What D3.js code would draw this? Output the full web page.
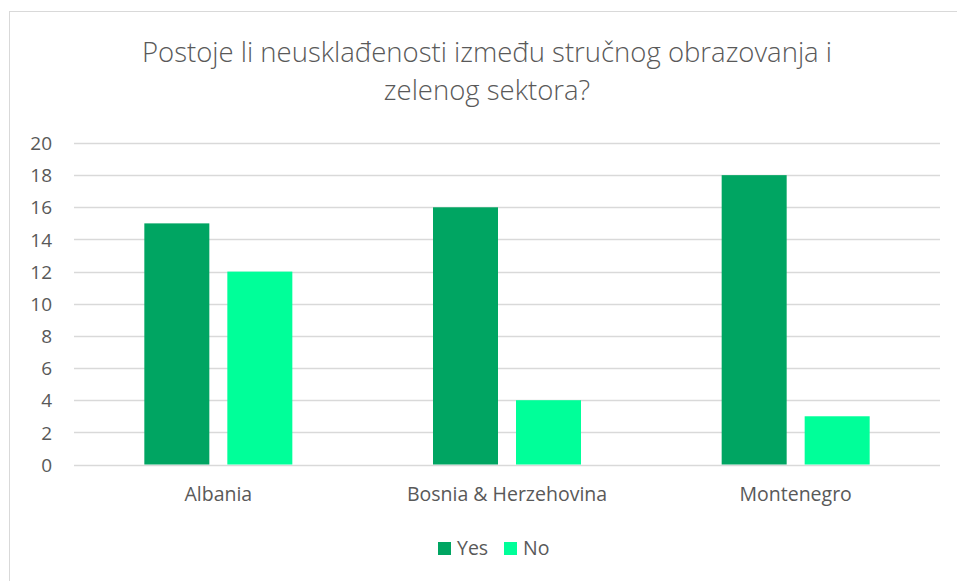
<!DOCTYPE html>
<html><head><meta charset="utf-8">
<script src="https://cdn.jsdelivr.net/npm/d3@7"></script>
<style>body{margin:0;background:#fff;} svg{display:block;}</style>
</head><body>
<svg id="chart" width="957" height="581"></svg>
<script>
const titleLines = ["Postoje li neusklađenosti između stručnog obrazovanja i", "zelenog sektora?"];
const categories = ["Albania", "Bosnia & Herzehovina", "Montenegro"];
const seriesNames = ["Yes", "No"];
const yesValues = [15, 16, 18];
const noValues = [12, 4, 3];
const yTicks = [0, 2, 4, 6, 8, 10, 12, 14, 16, 18, 20];
const colors = ["#00A562", "#00FF99"];

const svg = d3.select("#chart");
const font = "'Open Sans', Lato, sans-serif";
const textColor = "#595959";

// frame
svg.append("rect").attr("x", 9.5).attr("y", 11.5).attr("width", 1000).attr("height", 1000)
  .attr("fill", "#fff").attr("stroke", "#d9d9d9").attr("stroke-width", 1);

const x0 = 74, x1 = 940, yTop = 143, yBot = 464.5;
const x = d3.scaleBand().domain(categories).range([x0, x1]).paddingInner(0).paddingOuter(0);
const y = d3.scaleLinear().domain([0, 20]).range([yBot, yTop]);
const barW = 65, gap = 18;
const xs = d3.scaleOrdinal().domain(seriesNames).range([-(gap / 2 + barW), gap / 2]);

// gridlines
svg.append("g").selectAll("line").data(yTicks).join("line")
  .attr("x1", x0).attr("x2", x1)
  .attr("y1", d => Math.round(y(d)) + 0.5).attr("y2", d => Math.round(y(d)) + 0.5)
  .attr("stroke", "#d9d9d9").attr("stroke-width", 1.3);

// y axis labels
const yAxis = d3.axisLeft(y).tickValues(yTicks).tickSize(0).tickPadding(0);
const ya = svg.append("g").attr("transform", "translate(52,0)").call(yAxis);
ya.select(".domain").remove();
ya.selectAll("text").attr("font-family", font).attr("font-size", 19).attr("fill", textColor).attr("dy", "0.35em");

// bars
const data = [];
categories.forEach((c, i) => {
  data.push({cat: c, s: "Yes", v: yesValues[i]});
  data.push({cat: c, s: "No", v: noValues[i]});
});
svg.append("g").selectAll("rect").data(data).join("rect")
  .attr("x", d => x(d.cat) + x.bandwidth() / 2 + xs(d.s))
  .attr("width", barW)
  .attr("y", d => y(d.v))
  .attr("height", d => yBot - y(d.v))
  .attr("fill", (d) => colors[seriesNames.indexOf(d.s)]);

// x axis labels
const xAxis = d3.axisBottom(x).tickSize(0).tickPadding(0);
const xa = svg.append("g").attr("transform", "translate(0,486)").call(xAxis);
xa.select(".domain").remove();
xa.selectAll("text").attr("font-family", font).attr("font-size", 19.5).attr("fill", textColor).attr("dy", "0.75em");

// title
svg.append("g").selectAll("text").data(titleLines).join("text")
  .attr("x", 487).attr("y", (d, i) => 62 + i * 38)
  .attr("text-anchor", "middle")
  .attr("font-family", font).attr("font-weight", 300).attr("font-size", 27.5)
  .attr("fill", textColor).text(d => d);

// legend
const legendX = [438, 504];
const lg = svg.append("g").selectAll("g").data(seriesNames).join("g")
  .attr("transform", (d, i) => `translate(${legendX[i]},542)`);
lg.append("rect").attr("width", 13).attr("height", 13).attr("fill", (d, i) => colors[i]);
lg.append("text").attr("x", 19).attr("y", 6.5).attr("dy", "0.35em")
  .attr("font-family", font).attr("font-size", 19.5).attr("fill", textColor).text(d => d);
</script>
</body></html>
